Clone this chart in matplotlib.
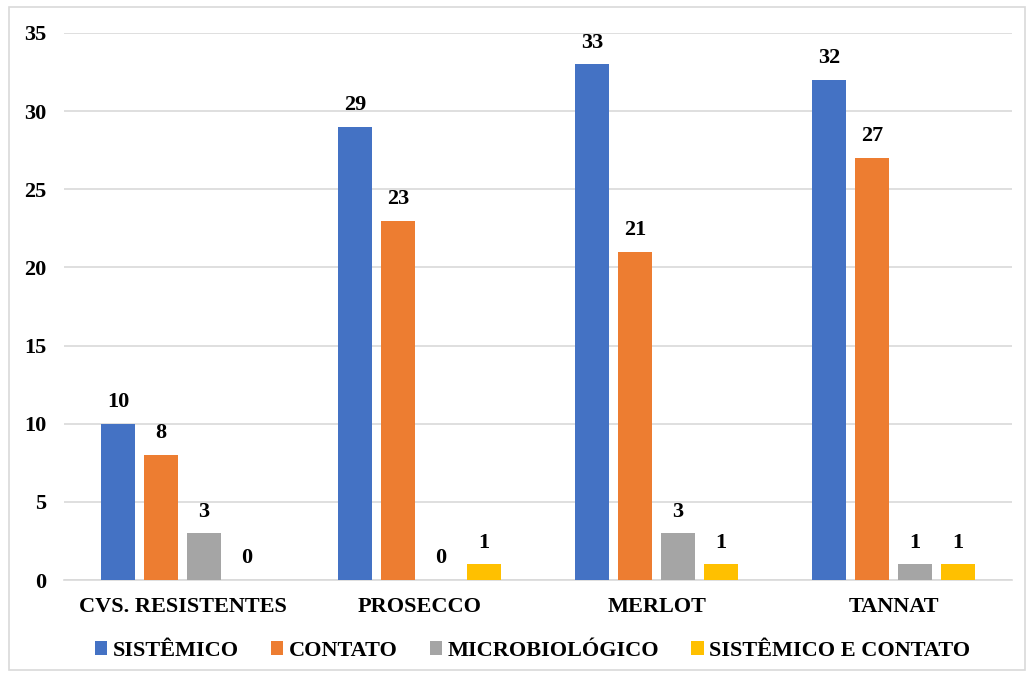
import matplotlib
matplotlib.use("Agg")
import matplotlib.pyplot as plt
import numpy as np
from matplotlib.patches import Rectangle

categories = ["CVS. RESISTENTES", "PROSECCO", "MERLOT", "TANNAT"]
series_names = ["SISTÊMICO", "CONTATO", "MICROBIOLÓGICO", "SISTÊMICO E CONTATO"]
sistemico = [10, 29, 33, 32]
contato = [8, 23, 21, 27]
microbiologico = [3, 0, 3, 1]
sist_contato = [0, 1, 1, 1]
yticks = [0, 5, 10, 15, 20, 25, 30, 35]

colors = ["#4472C4", "#ED7D31", "#A5A5A5", "#FFC000"]
series = [sistemico, contato, microbiologico, sist_contato]

plt.rcParams['font.family'] = ['Liberation Serif', 'DejaVu Serif']
plt.rcParams['font.weight'] = 'bold'

fig = plt.figure(figsize=(10.34, 6.73), dpi=100)
ax = fig.add_axes([0.062, 0.138, 0.917, 0.813])

x = np.arange(len(categories))
step = 0.181
width = 0.143
for i, (vals, col, name) in enumerate(zip(series, colors, series_names)):
    pos = x + (i - 1.5) * step
    ax.bar(pos, vals, width=width, color=col, label=name, zorder=3)
    for p, v in zip(pos, vals):
        ax.text(p, v + 0.75, str(v), ha='center', va='bottom', fontsize=16,
                fontweight='bold', color='#000000')

ax.set_ylim(0, 35)
ax.set_xlim(-0.5, len(categories) - 0.5)
ax.set_yticks(yticks)
ax.set_xticks(x)
ax.set_xticklabels(categories, fontsize=16, fontweight='bold')
ax.tick_params(axis='y', labelsize=16, length=0, pad=13)
ax.tick_params(axis='x', length=0, pad=12)
ax.grid(axis='y', color='#D9D9D9', linewidth=1.2, zorder=0)
for s in ['top', 'right', 'left']:
    ax.spines[s].set_visible(False)
ax.spines['bottom'].set_color('#D9D9D9')
ax.spines['bottom'].set_linewidth(1.2)

fig.legend(loc='center', bbox_to_anchor=(0.515, 0.033), ncol=4, frameon=False,
           handlelength=0.55, handleheight=0.55, handletextpad=0.25,
           columnspacing=1.45, prop={'weight': 'bold', 'size': 16})

fig.patches.append(Rectangle((0.009, 0.004), 0.982, 0.985, transform=fig.transFigure,
                             fill=False, edgecolor='#D9D9D9', linewidth=1.2))

fig.savefig("out.png", dpi=100)
